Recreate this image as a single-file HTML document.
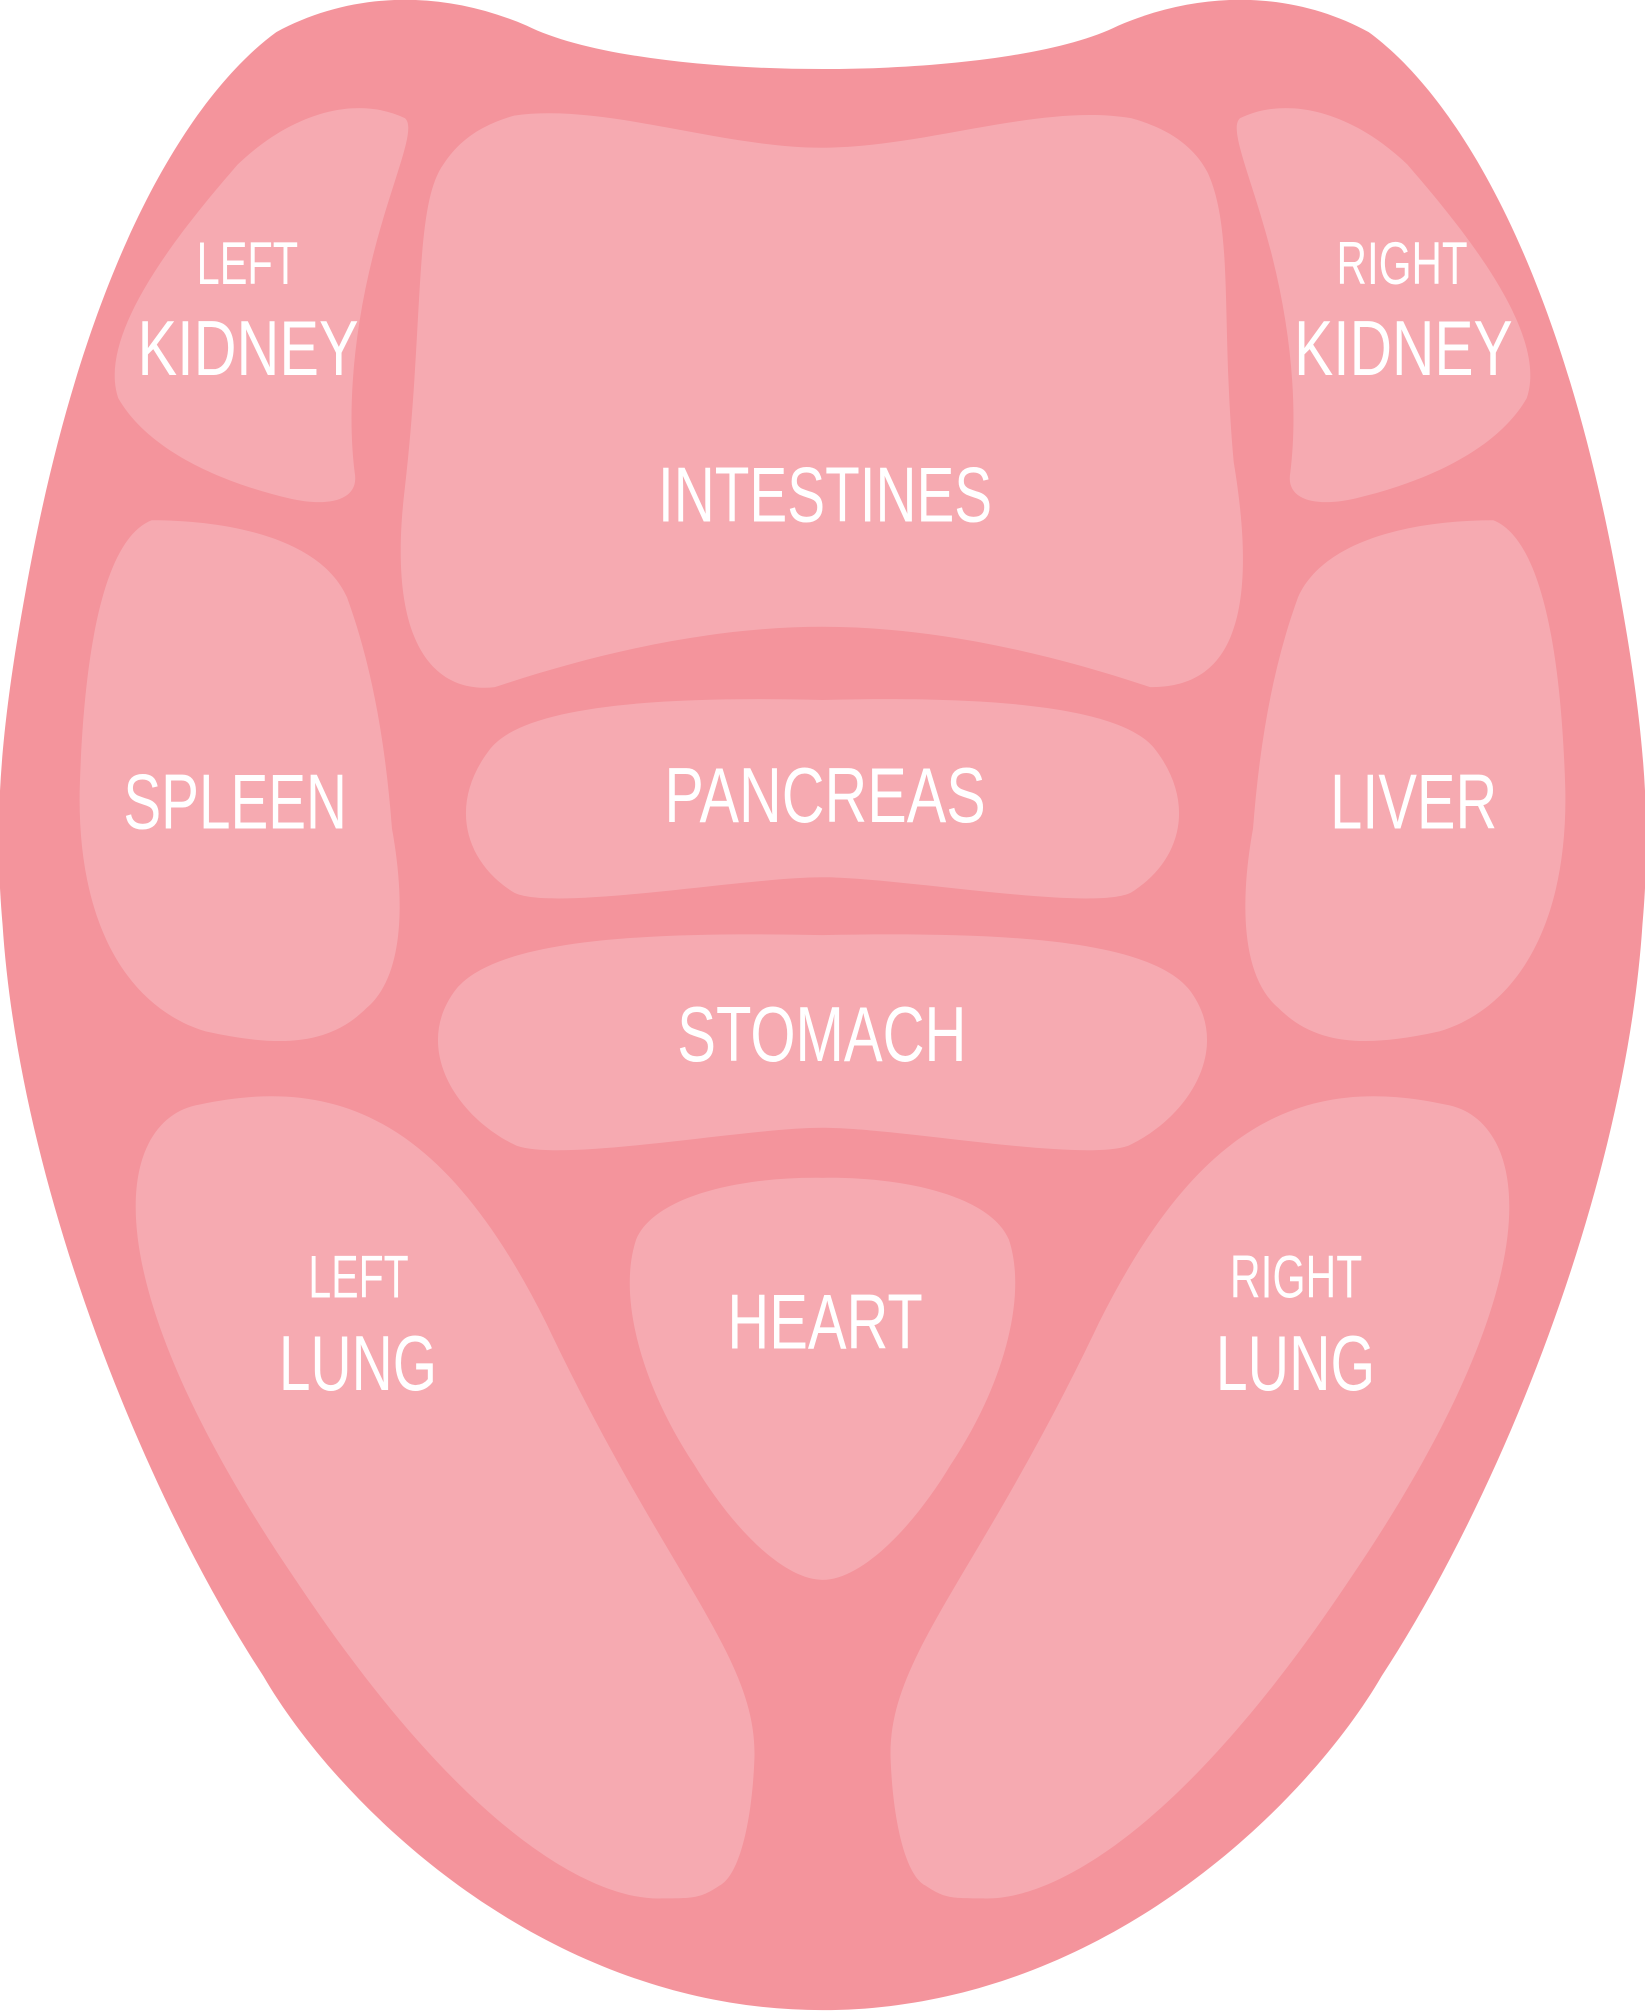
<!DOCTYPE html>
<html><head><meta charset="utf-8"><style>
html,body{margin:0;padding:0;background:#fff;}
svg{display:block;}
text{font-family:"Liberation Sans",sans-serif;fill:#fff;}
</style></head><body>
<svg width="1645" height="2014" viewBox="0 0 1280 1568" preserveAspectRatio="none" xmlns="http://www.w3.org/2000/svg">
<path fill="#f4949c" d="M215,25 C270,-5 340,-10 410,20 C500,65 780,65 870,20 C940,-10 1010,-5 1065,25 C1120,65 1210,180 1260,460 C1280,570 1285,640 1278,720 C1265,920 1170,1160 1075,1305 C1020,1400 860,1565 640,1565 C420,1565 260,1400 205,1305 C110,1160 15,920 2,720 C-5,640 0,570 20,460 C70,180 160,65 215,25 Z"/>
<g fill="#f6aab1">
<path d="M315,92 C280,75 230,85 185,128 C140,180 75,260 92,310 C115,350 170,375 225,388 C255,395 280,390 276,368 C270,320 275,260 290,200 C305,140 325,100 315,92 Z"/>
<path d="M965,92 C1000,75 1050,85 1095,128 C1140,180 1205,260 1188,310 C1165,350 1110,375 1055,388 C1025,395 1000,390 1004,368 C1010,320 1005,260 990,200 C975,140 955,100 965,92 Z"/>
<path d="M400,90 C470,80 560,115 640,115 C720,115 810,80 880,92 C910,100 930,115 940,135 C960,180 950,250 960,360 C985,510 940,535 895,535 C820,510 730,488 640,488 C550,488 460,510 385,535 C340,540 300,505 315,380 C330,250 322,160 345,128 C360,105 380,96 400,90 Z"/>
<path d="M118,405 C180,405 250,420 270,465 C290,520 300,580 305,645 C315,700 315,760 285,785 C255,815 215,815 160,803 C100,785 60,720 62,615 C65,510 80,420 118,405 Z"/>
<path d="M1162,405 C1100,405 1030,420 1010,465 C990,520 980,580 975,645 C965,700 965,760 995,785 C1025,815 1065,815 1120,803 C1180,785 1220,720 1218,615 C1215,510 1200,420 1162,405 Z"/>
<path d="M640,545 C760,542 875,548 900,585 C930,625 920,670 880,695 C850,710 700,683 640,683 C580,683 430,710 400,695 C360,670 350,625 380,585 C405,548 520,542 640,545Z"/>
<path d="M640,728 C760,726 890,728 925,770 C960,815 925,870 878,892 C840,905 700,878 640,878 C580,878 440,905 402,892 C355,870 320,815 355,770 C390,728 520,726 640,728Z"/>
<path d="M640,917 C700,916 770,930 785,965 C800,1010 780,1080 740,1140 C710,1190 670,1230 640,1230 C610,1230 570,1190 540,1140 C500,1080 480,1010 495,965 C510,930 580,916 640,917Z"/>
<path d="M155,860 C270,835 350,880 425,1030 C520,1230 590,1290 587,1370 C585,1420 575,1460 560,1468 C545,1478 540,1478 515,1478 C470,1480 370,1440 230,1230 C60,980 95,870 155,860Z"/>
<path d="M1125,860 C1010,835 930,880 855,1030 C760,1230 690,1290 693,1370 C695,1420 705,1460 720,1468 C735,1478 740,1478 765,1478 C810,1480 910,1440 1050,1230 C1220,980 1185,870 1125,860Z"/>
</g>
<g>
<text x="153" y="221" font-size="47" textLength="79" lengthAdjust="spacingAndGlyphs">LEFT</text>
<text x="107" y="292" font-size="61" textLength="172" lengthAdjust="spacingAndGlyphs">KIDNEY</text>
<text x="1040" y="221" font-size="47" textLength="102" lengthAdjust="spacingAndGlyphs">RIGHT</text>
<text x="1007" y="292" font-size="61" textLength="170" lengthAdjust="spacingAndGlyphs">KIDNEY</text>
<text x="512" y="406" font-size="61" textLength="260" lengthAdjust="spacingAndGlyphs">INTESTINES</text>
<text x="96" y="645" font-size="61" textLength="174" lengthAdjust="spacingAndGlyphs">SPLEEN</text>
<text x="1035" y="645" font-size="61" textLength="130" lengthAdjust="spacingAndGlyphs">LIVER</text>
<text x="517" y="640" font-size="61" textLength="250" lengthAdjust="spacingAndGlyphs">PANCREAS</text>
<text x="527" y="826" font-size="61" textLength="225" lengthAdjust="spacingAndGlyphs">STOMACH</text>
<text x="240" y="1010" font-size="47" textLength="78" lengthAdjust="spacingAndGlyphs">LEFT</text>
<text x="217" y="1082" font-size="61" textLength="123" lengthAdjust="spacingAndGlyphs">LUNG</text>
<text x="566" y="1050" font-size="61" textLength="152" lengthAdjust="spacingAndGlyphs">HEART</text>
<text x="957" y="1010" font-size="47" textLength="103" lengthAdjust="spacingAndGlyphs">RIGHT</text>
<text x="946" y="1082" font-size="61" textLength="124" lengthAdjust="spacingAndGlyphs">LUNG</text>
</g>
</svg>
</body></html>
